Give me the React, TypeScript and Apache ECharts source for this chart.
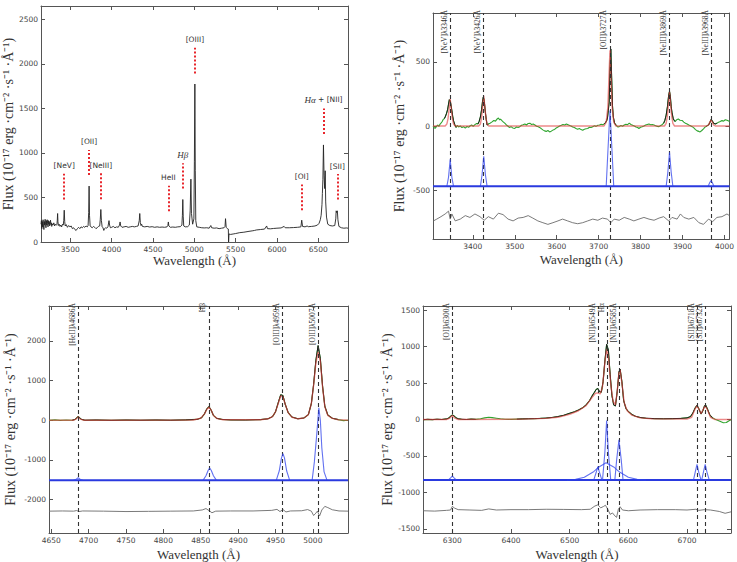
import React, { useEffect, useRef } from 'react';
import * as echarts from 'echarts';

type Pt = [number, number];

// ---------- Panel 1: full optical spectrum ----------
const p1XTicks = [3500, 4000, 4500, 5000, 5500, 6000, 6500];
const p1YTicks = [0, 500, 1000, 1500, 2000, 2500];
const p1Spectrum: Pt[] = [
  [3145, 200], [3150, 240], [3155, 150], [3160, 230], [3165, 170], [3170, 250], [3175, 180], [3180, 140],
  [3185, 230], [3190, 190], [3195, 255], [3200, 200], [3205, 160], [3210, 240], [3215, 190], [3220, 250],
  [3225, 210], [3230, 170], [3235, 240], [3240, 200], [3245, 230], [3250, 180], [3255, 210], [3260, 245],
  [3265, 195], [3270, 215], [3275, 175], [3280, 205], [3290, 190], [3300, 215], [3310, 180], [3320, 200],
  [3330, 190], [3338, 195], [3342, 240], [3346, 320], [3350, 230], [3355, 185], [3365, 200], [3375, 175],
  [3385, 190], [3395, 170], [3405, 200], [3415, 190], [3420, 240], [3426, 357], [3432, 230], [3438, 180],
  [3450, 195], [3465, 165], [3480, 185], [3495, 170], [3510, 180], [3525, 150], [3540, 160], [3555, 140],
  [3570, 130], [3585, 150], [3600, 165], [3615, 150], [3630, 170], [3645, 160], [3660, 175], [3675, 165],
  [3690, 180], [3705, 170], [3715, 185], [3722, 330], [3727, 628], [3732, 300], [3740, 180], [3750, 170],
  [3765, 160], [3780, 175], [3795, 165], [3810, 150], [3825, 160], [3840, 175], [3855, 180], [3862, 250],
  [3869, 365], [3876, 240], [3885, 170], [3895, 160], [3905, 130], [3915, 150], [3925, 160], [3940, 155],
  [3955, 170], [3968, 240], [3975, 190], [3985, 160], [4000, 165], [4020, 175], [4040, 160], [4060, 170],
  [4080, 165], [4095, 190], [4102, 225], [4110, 180], [4125, 165], [4150, 170], [4175, 175], [4200, 165],
  [4225, 170], [4250, 175], [4275, 170], [4300, 175], [4320, 180], [4334, 240], [4340, 320], [4347, 220],
  [4355, 185], [4363, 200], [4372, 175], [4400, 170], [4430, 175], [4460, 168], [4490, 172], [4520, 165],
  [4550, 170], [4580, 165], [4610, 168], [4640, 165], [4670, 170], [4680, 185], [4686, 225], [4692, 180],
  [4710, 165], [4740, 168], [4770, 165], [4800, 170], [4830, 172], [4850, 190], [4856, 300], [4861, 477],
  [4866, 290], [4872, 180], [4890, 170], [4920, 172], [4940, 190], [4950, 350], [4959, 706], [4966, 320],
  [4980, 200], [4995, 260], [5001, 900], [5007, 1774], [5012, 800], [5018, 240], [5030, 170], [5060, 165],
  [5090, 160], [5120, 158], [5150, 160], [5180, 155], [5200, 185], [5210, 160], [5240, 155], [5270, 158],
  [5300, 150], [5330, 155], [5360, 160], [5372, 175], [5378, 262], [5386, 165], [5400, 150], [5412, 145],
  [5415, 0], [5420, 90], [5440, 85], [5470, 90], [5500, 95], [5550, 105], [5600, 110], [5650, 118],
  [5700, 125], [5730, 130], [5750, 135], [5800, 140], [5850, 145], [5876, 180], [5885, 150], [5920, 148],
  [5960, 152], [6000, 155], [6050, 158], [6087, 175], [6100, 160], [6150, 160], [6200, 162], [6250, 165],
  [6290, 170], [6300, 245], [6310, 175], [6340, 170], [6365, 180], [6380, 172], [6420, 175], [6460, 180],
  [6490, 190], [6510, 210], [6525, 250], [6535, 300], [6545, 420], [6550, 545], [6556, 700], [6563, 1090],
  [6570, 750], [6578, 600], [6584, 800], [6590, 450], [6600, 280], [6615, 200], [6640, 185], [6670, 180],
  [6700, 185], [6712, 260], [6717, 350], [6724, 330], [6731, 350], [6738, 250], [6750, 175], [6780, 160],
  [6810, 155], [6840, 158], [6860, 155],
];
// emission-line markers: name, wavelength, dotted segment bottom/top flux
const p1MarkName = ['[NeV]', '[OII]', '[NeIII]', 'HeII', '{it|Hβ}', '[OIII]', '[OI]', '{it|Hα} + [NII]', '[SII]'];
const p1MarkWave = [3426, 3727, 3869, 4686, 4861, 5007, 6300, 6563, 6731];
const p1MarkLow = [478, 752, 481, 346, 602, 1891, 357, 1214, 477];
const p1MarkHigh = [765, 1034, 771, 632, 884, 2181, 647, 1500, 763];

// ---------- Panel 2: [NeV] / [OII] / [NeIII] ----------
const p2XTicks = [3400, 3500, 3600, 3700, 3800, 3900, 4000];
const p2YTicks = [-500, 0, 500];
const p2LineName = ['[NeV]λ3346Å', '[NeV]λ3426Å', '[OII]λ3727Å', '[NeIII]λ3869Å', '[NeIII]λ3968Å'];
const p2LineWave = [3346, 3426, 3727, 3869, 3968];
const p2FitWindows: Pt[] = [[3332, 3360], [3412, 3440], [3712, 3744], [3855, 3884], [3956, 3982]];
const p2Data: Pt[] = [
  [3305, 0], [3308, -12], [3310, -19], [3313, -5], [3316, 8], [3319, -3], [3322, 15], [3324, 22], [3327, 35],
  [3329, 49], [3332, 58], [3334, 70], [3337, 95], [3340, 130], [3342, 170], [3344, 205], [3346, 195],
  [3348, 160], [3350, 120], [3352, 75], [3354, 40], [3357, 10], [3360, -11], [3363, 5], [3366, -8], [3370, 0],
  [3374, -12], [3378, -5], [3382, -16], [3386, -4], [3390, -10], [3393, 0], [3397, 8], [3401, -2], [3405, 11],
  [3409, 20], [3412, 15], [3415, 35], [3418, 70], [3421, 130], [3423, 190], [3425, 225], [3427, 200],
  [3430, 103], [3432, 50], [3434, 8], [3437, 15], [3441, 22], [3445, 30], [3450, 43], [3454, 38], [3458, 55],
  [3461, 62], [3464, 48], [3466, 54], [3470, 40], [3473, 30], [3476, 22], [3480, 8], [3484, -2], [3487, -11],
  [3491, -5], [3495, -15], [3500, -19], [3504, -8], [3508, -12], [3512, -5], [3516, 6], [3520, 10], [3524, 16],
  [3528, 8], [3532, 20], [3536, 22], [3540, 12], [3544, 15], [3548, 8], [3552, -2], [3556, -6], [3559, -11],
  [3563, -20], [3567, -30], [3571, -38], [3575, -42], [3579, -35], [3583, -46], [3587, -40], [3591, -32],
  [3595, -27], [3599, -15], [3603, -8], [3607, 0], [3611, 5], [3615, 12], [3619, 8], [3623, 16], [3627, 10],
  [3631, 4], [3634, 0], [3638, -8], [3642, -12], [3646, -19], [3650, -25], [3654, -20], [3658, -28],
  [3662, -33], [3666, -25], [3670, -22], [3674, -19], [3678, -10], [3682, -12], [3686, -5], [3690, 2],
  [3694, -3], [3698, 6], [3702, 8], [3706, 14], [3710, 10], [3713, 16], [3716, 25], [3719, 40], [3721, 62],
  [3723, 120], [3725, 185], [3727, 430], [3729, 600], [3731, 380], [3733, 158], [3735, 70], [3738, 22],
  [3742, 5], [3746, -8], [3749, -5], [3753, 4], [3757, -2], [3761, 8], [3765, 14], [3769, 10], [3773, 22],
  [3777, 12], [3781, 6], [3785, 0], [3789, -8], [3793, -12], [3796, -19], [3800, -10], [3804, -6], [3808, 0],
  [3812, 8], [3816, 12], [3820, 16], [3824, 10], [3828, 12], [3832, 8], [3836, 2], [3840, -3], [3844, -5],
  [3848, 4], [3852, 12], [3855, 22], [3858, 45], [3861, 85], [3864, 150], [3867, 240], [3869, 270],
  [3871, 230], [3873, 150], [3875, 103], [3878, 55], [3882, 35], [3886, 48], [3890, 54], [3894, 45],
  [3899, 43], [3903, 30], [3907, 22], [3911, 16], [3915, 8], [3919, 2], [3923, -5], [3927, -15], [3931, -28],
  [3935, -38], [3939, -42], [3942, -46], [3946, -35], [3950, -22], [3953, -11], [3957, -2], [3960, 5],
  [3962, 8], [3965, 25], [3968, 50], [3971, 40], [3974, 22], [3978, 16], [3982, 22], [3986, 30], [3990, 35],
  [3994, 42], [3998, 38], [4002, 49], [4006, 44], [4010, 38], [4012, 35],
];
const p2Model: Pt[] = [
  [3305, 0], [3334, 0], [3338, 15], [3341, 60], [3344, 150], [3346, 210], [3348, 150], [3351, 60], [3354, 15],
  [3358, 0], [3414, 0], [3418, 15], [3421, 70], [3424, 170], [3426, 235], [3428, 170], [3431, 70], [3434, 15],
  [3438, 0], [3713, 0], [3718, 30], [3722, 150], [3725, 420], [3727, 590], [3729, 420], [3732, 150],
  [3736, 30], [3741, 0], [3857, 0], [3861, 20], [3864, 80], [3867, 190], [3869, 265], [3871, 190], [3874, 80],
  [3877, 20], [3881, 0], [3958, 0], [3962, 8], [3965, 30], [3968, 45], [3971, 30], [3974, 8], [3978, 0],
  [4012, 0],
];
const p2CompBase = -470;
const p2Components: Pt[][] = [
  [[3338, -470], [3342, -400], [3346, -260], [3350, -400], [3354, -470]],
  [[3418, -470], [3422, -380], [3426, -235], [3430, -380], [3434, -470]],
  [[3718, -470], [3722, -200], [3727, 120], [3732, -200], [3736, -470]],
  [[3861, -470], [3865, -360], [3869, -205], [3873, -360], [3877, -470]],
  [[3961, -470], [3965, -440], [3968, -425], [3971, -440], [3975, -470]],
];
const p2Residual: Pt[] = [
  [3306, -739], [3314, -725], [3324, -706], [3334, -685], [3342, -663], [3346, -725], [3350, -685],
  [3358, -739], [3370, -725], [3382, -698], [3393, -712], [3405, -685], [3417, -706], [3427, -734],
  [3437, -706], [3449, -725], [3461, -679], [3472, -690], [3484, -725], [3496, -739], [3508, -717],
  [3520, -712], [3532, -698], [3543, -717], [3555, -739], [3567, -753], [3579, -766], [3591, -753],
  [3603, -739], [3614, -725], [3626, -739], [3638, -753], [3650, -761], [3662, -753], [3674, -739],
  [3686, -725], [3698, -734], [3709, -717], [3721, -725], [3729, -753], [3737, -725], [3749, -734],
  [3761, -712], [3773, -725], [3784, -739], [3796, -725], [3808, -712], [3820, -725], [3832, -734],
  [3844, -717], [3855, -706], [3867, -739], [3875, -712], [3887, -725], [3895, -685], [3903, -712],
  [3915, -725], [3927, -712], [3939, -753], [3950, -766], [3962, -725], [3972, -744], [3982, -712],
  [3994, -706], [4006, -685], [4012, -698],
];

// ---------- Panel 3: HeII / Hβ / [OIII] ----------
const p3XTicks = [4650, 4700, 4750, 4800, 4850, 4900, 4950, 5000];
const p3YTicks = [-2000, -1000, 0, 1000, 2000];
const p3LineName = ['[HeII]λ4686Å', 'Hβ', '[OIII]λ4959Å', '[OIII]λ5007Å'];
const p3LineWave = [4686, 4861, 4959, 5007];
const p3FitWindows: Pt[] = [[4676, 5036]];
const p3Data: Pt[] = [
  [4647, 0], [4655, 8], [4662, -5], [4670, 5], [4678, 0], [4682, 20], [4686, 95], [4690, 25], [4695, 0],
  [4710, 5], [4730, -3], [4750, 4], [4770, 0], [4790, 5], [4810, 0], [4830, 8], [4845, 20], [4851, 60],
  [4855, 160], [4858, 280], [4861, 345], [4864, 250], [4867, 120], [4871, 50], [4878, 20], [4890, 8],
  [4910, 5], [4930, 15], [4940, 35], [4946, 90], [4950, 210], [4954, 460], [4957, 640], [4960, 620],
  [4963, 400], [4967, 190], [4972, 80], [4980, 35], [4988, 55], [4994, 140], [4998, 420], [5001, 900],
  [5004, 1500], [5007, 1880], [5010, 1550], [5013, 850], [5016, 350], [5020, 130], [5026, 50], [5034, 15],
  [5041, -10], [5047, 0],
];
const p3Model: Pt[] = [
  [4647, 0], [4680, 0], [4683, 25], [4686, 85], [4689, 25], [4693, 0], [4840, 5], [4850, 50], [4855, 160],
  [4858, 270], [4861, 330], [4864, 250], [4867, 120], [4872, 40], [4880, 10], [4930, 10], [4940, 35],
  [4946, 90], [4950, 210], [4954, 440], [4957, 610], [4960, 590], [4963, 400], [4967, 190], [4972, 75],
  [4980, 35], [4988, 55], [4994, 140], [4998, 420], [5001, 880], [5004, 1430], [5007, 1720], [5010, 1480],
  [5013, 830], [5016, 340], [5020, 120], [5026, 45], [5034, 12], [5047, 0],
];
const p3CompBase = -1515;
const p3Components: Pt[][] = [
  [[4680, -1515], [4683, -1490], [4686, -1450], [4689, -1490], [4692, -1515]],
  [[4853, -1515], [4857, -1400], [4860, -1260], [4862, -1205], [4864, -1260], [4867, -1400], [4871, -1515]],
  [[4951, -1515], [4955, -1280], [4958, -950], [4960, -845], [4962, -950], [4965, -1280], [4969, -1515]],
  [[4999, -1515], [5002, -1050], [5005, -400], [5008, 310], [5010, 0], [5012, -700], [5015, -1300], [5019, -1515]],
];
const p3Residual: Pt[] = [
  [4647, -2290], [4665, -2285], [4680, -2290], [4684, -2275], [4687, -2300], [4692, -2285], [4720, -2290],
  [4750, -2300], [4780, -2295], [4810, -2290], [4840, -2285], [4852, -2260], [4857, -2225], [4861, -2275],
  [4865, -2330], [4870, -2290], [4890, -2285], [4920, -2285], [4945, -2270], [4952, -2245], [4956, -2300],
  [4960, -2250], [4964, -2310], [4970, -2285], [4985, -2280], [4993, -2250], [4998, -2290], [5001, -2400],
  [5004, -2340], [5006, -2290], [5009, -2410], [5012, -2260], [5016, -2170], [5020, -2200], [5026, -2255],
  [5035, -2285], [5047, -2290],
];

// ---------- Panel 4: [OI] / Hα + [NII] / [SII] ----------
const p4XTicks = [6300, 6400, 6500, 6600, 6700];
const p4YTicks = [-1500, -1000, -500, 0, 500, 1000, 1500];
const p4LineName = ['[OI]λ6300Å', '[NII]λ6549Å', 'Hα', '[NII]λ6585Å', '[SII]λ6718Å', '[SII]λ6732Å'];
const p4LineWave = [6300, 6549, 6564, 6585, 6718, 6731];
const p4FitWindows: Pt[] = [[6250, 6346], [6402, 6748]];
const p4Data: Pt[] = [
  [6250, -3], [6258, 2], [6266, -2], [6274, 4], [6282, 0], [6290, 8], [6294, 20], [6297, 45], [6300, 62],
  [6303, 50], [6306, 25], [6310, 10], [6316, 4], [6324, 0], [6332, 5], [6340, 2], [6348, 10], [6355, 22],
  [6362, 30], [6368, 26], [6375, 18], [6382, 10], [6390, 4], [6400, 2], [6410, 5], [6420, 8], [6430, 10],
  [6440, 12], [6450, 15], [6460, 20], [6470, 28], [6480, 40], [6490, 58], [6500, 85], [6508, 105],
  [6515, 130], [6522, 160], [6528, 200], [6534, 260], [6538, 320], [6542, 370], [6545, 410], [6548, 425],
  [6551, 380], [6554, 375], [6557, 520], [6560, 800], [6563, 1030], [6566, 950], [6569, 620], [6572, 330],
  [6575, 200], [6578, 185], [6581, 380], [6584, 650], [6586, 690], [6589, 520], [6592, 260], [6596, 150],
  [6600, 110], [6606, 70], [6612, 45], [6620, 28], [6630, 18], [6645, 12], [6660, 10], [6675, 12],
  [6690, 15], [6700, 22], [6706, 40], [6710, 90], [6714, 160], [6717, 195], [6720, 150], [6724, 75],
  [6727, 120], [6730, 190], [6732, 195], [6735, 140], [6739, 60], [6744, 20], [6750, -5], [6756, -25],
  [6762, -45], [6767, -42], [6771, -20], [6775, -5],
];
const p4Model: Pt[] = [
  [6250, 0], [6290, 0], [6295, 15], [6300, 55], [6305, 15], [6310, 0], [6420, 5], [6460, 15], [6480, 30],
  [6500, 70], [6515, 120], [6528, 190], [6538, 300], [6544, 360], [6548, 365], [6552, 350], [6556, 450],
  [6560, 780], [6563, 960], [6566, 860], [6570, 480], [6574, 250], [6578, 200], [6581, 380], [6584, 640],
  [6586, 680], [6589, 500], [6593, 230], [6598, 120], [6606, 60], [6620, 22], [6640, 8], [6700, 5],
  [6708, 30], [6713, 130], [6717, 190], [6721, 130], [6724, 80], [6727, 130], [6731, 190], [6735, 130],
  [6740, 30], [6748, 0], [6775, 0],
];
const p4CompBase = -830;
const p4Components: Pt[][] = [
  [[6293, -830], [6297, -800], [6300, -775], [6303, -800], [6307, -830]],
  [[6495, -830], [6510, -820], [6525, -790], [6540, -720], [6550, -650], [6562, -592], [6575, -650],
    [6585, -720], [6600, -790], [6615, -820], [6630, -830]],
  [[6541, -830], [6545, -730], [6548, -645], [6551, -730], [6555, -830]],
  [[6556, -830], [6560, -450], [6563, -15], [6566, -450], [6570, -830]],
  [[6577, -830], [6580, -560], [6584, -280], [6588, -560], [6591, -830]],
  [[6711, -830], [6714, -720], [6717, -615], [6720, -720], [6724, -830]],
  [[6725, -830], [6728, -720], [6731, -615], [6734, -720], [6738, -830]],
];
const p4Residual: Pt[] = [
  [6250, -1250], [6270, -1255], [6290, -1245], [6297, -1240], [6300, -1190], [6304, -1215], [6310, -1235],
  [6330, -1240], [6350, -1245], [6362, -1225], [6375, -1240], [6400, -1235], [6430, -1235], [6460, -1230],
  [6490, -1232], [6520, -1235], [6535, -1230], [6543, -1185], [6548, -1170], [6553, -1210], [6558, -1190],
  [6561, -1175], [6565, -1230], [6569, -1300], [6573, -1280], [6577, -1320], [6580, -1340], [6583, -1230],
  [6586, -1195], [6590, -1240], [6600, -1250], [6620, -1240], [6650, -1235], [6680, -1235], [6700, -1240],
  [6715, -1230], [6720, -1245], [6730, -1235], [6740, -1240], [6755, -1260], [6765, -1285], [6775, -1265],
];

// ---------- styling ----------
const SERIF = 'Liberation Serif';
const SANS = 'DejaVu Sans';
const FRAME = '#555';
const TICK_FONT = { fontFamily: SANS, fontSize: 7.5, color: '#444' };
const TITLE_FONT = { fontFamily: SERIF, fontSize: 13, color: '#333' };
const FLUX_TITLE = 'Flux (10⁻¹⁷ erg ·cm⁻² ·s⁻¹ ·Å⁻¹)';
const C_GREEN = '#2fa52f';
const C_DATA = '#1c1c1c';
const C_MODEL = 'rgba(225,60,60,0.6)';
const C_BLUE = '#2a3adf';
const C_COMP = 'rgba(45,65,235,0.75)';
const C_RESID = '#6b6b6b';

interface Panel {
  box: { left: number; top: number; width: number; height: number };
  x: [number, number];
  y: [number, number];
  xt: number[];
  yt: number[];
  xGap: number;
  yGap: number;
}

const panels: Panel[] = [
  { box: { left: 41, top: 6, width: 307, height: 236 }, x: [3145, 6860], y: [0, 2650], xt: p1XTicks, yt: p1YTicks, xGap: 10, yGap: 24 },
  { box: { left: 433, top: 13, width: 298, height: 226 }, x: [3305, 4012], y: [-880, 880], xt: p2XTicks, yt: p2YTicks, xGap: 14, yGap: 27 },
  { box: { left: 49, top: 306, width: 299, height: 227 }, x: [4647, 5047], y: [-2840, 2875], xt: p3XTicks, yt: p3YTicks, xGap: 15, yGap: 32 },
  { box: { left: 423, top: 306, width: 308, height: 227 }, x: [6250, 6775], y: [-1555, 1555], xt: p4XTicks, yt: p4YTicks, xGap: 15, yGap: 23 },
];

const plain = (v: number) => String(v);

function axesFor(p: Panel, g: number) {
  const tick = { show: true, inside: true, length: 4, lineStyle: { color: FRAME, width: 1 } };
  const line = { show: true, onZero: false, lineStyle: { color: FRAME, width: 1 } };
  const xs = [
    {
      type: 'value', gridIndex: g, min: p.x[0], max: p.x[1], position: 'bottom',
      name: 'Wavelength (Å)', nameLocation: 'middle', nameGap: p.xGap, nameTextStyle: TITLE_FONT,
      axisLine: line, axisTick: { ...tick, customValues: p.xt },
      axisLabel: { show: true, margin: 3, customValues: p.xt, formatter: plain, ...TICK_FONT },
      splitLine: { show: false },
    },
    {
      type: 'value', gridIndex: g, min: p.x[0], max: p.x[1], position: 'top',
      axisLine: line, axisTick: { ...tick, customValues: p.xt }, axisLabel: { show: false }, splitLine: { show: false },
    },
  ];
  const ys = [
    {
      type: 'value', gridIndex: g, min: p.y[0], max: p.y[1], position: 'left',
      name: FLUX_TITLE, nameLocation: 'middle', nameRotate: 90, nameGap: p.yGap,
      nameTextStyle: { ...TITLE_FONT, fontSize: 14 },
      axisLine: line, axisTick: { ...tick, customValues: p.yt },
      axisLabel: { show: true, margin: 3, customValues: p.yt, formatter: plain, ...TICK_FONT },
      splitLine: { show: false },
    },
    {
      type: 'value', gridIndex: g, min: p.y[0], max: p.y[1], position: 'right',
      axisLine: line, axisTick: { ...tick, customValues: p.yt }, axisLabel: { show: false }, splitLine: { show: false },
    },
  ];
  return { xs, ys };
}

function lineSeries(g: number, data: Pt[], color: string, width: number, z: number, extra: any = {}) {
  return {
    type: 'line', xAxisIndex: 2 * g, yAxisIndex: 2 * g, data, symbol: 'none', showSymbol: false,
    lineStyle: { color, width }, z, silent: true, animation: false, ...extra,
  };
}

function inWindows(data: Pt[], windows: Pt[]): Pt[][] {
  return windows.map(([a, b]) => data.filter(([w]) => w >= a && w <= b));
}

function lineMarks(p: Panel, names: string[], waves: number[]) {
  return {
    silent: true, symbol: ['none', 'none'], animation: false,
    lineStyle: { color: '#333', type: [4, 3], width: 1.1 },
    label: {
      show: true, position: 'insideEndTop', formatter: '{b}', distance: [-3, 2],
      fontFamily: SERIF, fontSize: 7.5, color: '#333',
    },
    data: waves.map((w, i) => [{ coord: [w, p.y[0]], name: names[i] }, { coord: [w, p.y[1]] }]),
  };
}

function fitPanelSeries(g: number, p: Panel, d: {
  data: Pt[]; windows: Pt[]; model: Pt[]; base: number; comps: Pt[][]; resid: Pt[]; names: string[]; waves: number[];
}) {
  const s: any[] = [];
  s.push(lineSeries(g, d.data, C_GREEN, 1.1, 2));
  inWindows(d.data, d.windows).forEach((seg) => s.push(lineSeries(g, seg, C_DATA, 1, 3)));
  s.push(lineSeries(g, d.model, C_MODEL, 1.4, 4));
  s.push(lineSeries(g, [[p.x[0], d.base], [p.x[1], d.base]], C_BLUE, 2, 5));
  d.comps.forEach((c) => s.push(lineSeries(g, c, C_COMP, 1.1, 5)));
  s.push(lineSeries(g, d.resid, C_RESID, 0.9, 3, { markLine: lineMarks(p, d.names, d.waves) }));
  return s;
}

function buildOption() {
  const xAxis: any[] = [];
  const yAxis: any[] = [];
  panels.forEach((p, g) => {
    const { xs, ys } = axesFor(p, g);
    xAxis.push(...xs);
    yAxis.push(...ys);
  });

  const series: any[] = [];
  // overview spectrum with dotted red line markers
  series.push(lineSeries(0, p1Spectrum, '#222', 0.9, 3, {
    markLine: {
      silent: true, symbol: ['none', 'none'], animation: false,
      lineStyle: { color: '#e8262c', width: 2, type: [2, 2] },
      label: {
        show: true, position: 'end', distance: 4, formatter: '{b}',
        fontFamily: SANS, fontSize: 7.5, color: '#333',
        rich: { it: { fontFamily: SERIF, fontStyle: 'italic', fontSize: 9, color: '#333' } },
      },
      data: p1MarkWave.map((w, i) => [
        { coord: [w, p1MarkLow[i]], name: p1MarkName[i] },
        { coord: [w, p1MarkHigh[i]] },
      ]),
    },
  }));

  series.push(...fitPanelSeries(1, panels[1], {
    data: p2Data, windows: p2FitWindows, model: p2Model, base: p2CompBase, comps: p2Components,
    resid: p2Residual, names: p2LineName, waves: p2LineWave,
  }));
  series.push(...fitPanelSeries(2, panels[2], {
    data: p3Data, windows: p3FitWindows, model: p3Model, base: p3CompBase, comps: p3Components,
    resid: p3Residual, names: p3LineName, waves: p3LineWave,
  }));
  series.push(...fitPanelSeries(3, panels[3], {
    data: p4Data, windows: p4FitWindows, model: p4Model, base: p4CompBase, comps: p4Components,
    resid: p4Residual, names: p4LineName, waves: p4LineWave,
  }));

  return {
    animation: false,
    backgroundColor: '#ffffff',
    grid: panels.map((p) => ({ ...p.box, containLabel: false, show: false })),
    xAxis,
    yAxis,
    series,
  };
}

export default function App() {
  const ref = useRef<HTMLDivElement>(null);
  useEffect(() => {
    if (!ref.current) return;
    const chart = echarts.init(ref.current, null, { renderer: 'svg' });
    chart.setOption(buildOption() as any);
    return () => chart.dispose();
  }, []);
  return (
    <div
      ref={ref}
      style={{ position: 'absolute', left: 0, top: 0, width: 737, height: 562, background: '#fff' }}
    />
  );
}
